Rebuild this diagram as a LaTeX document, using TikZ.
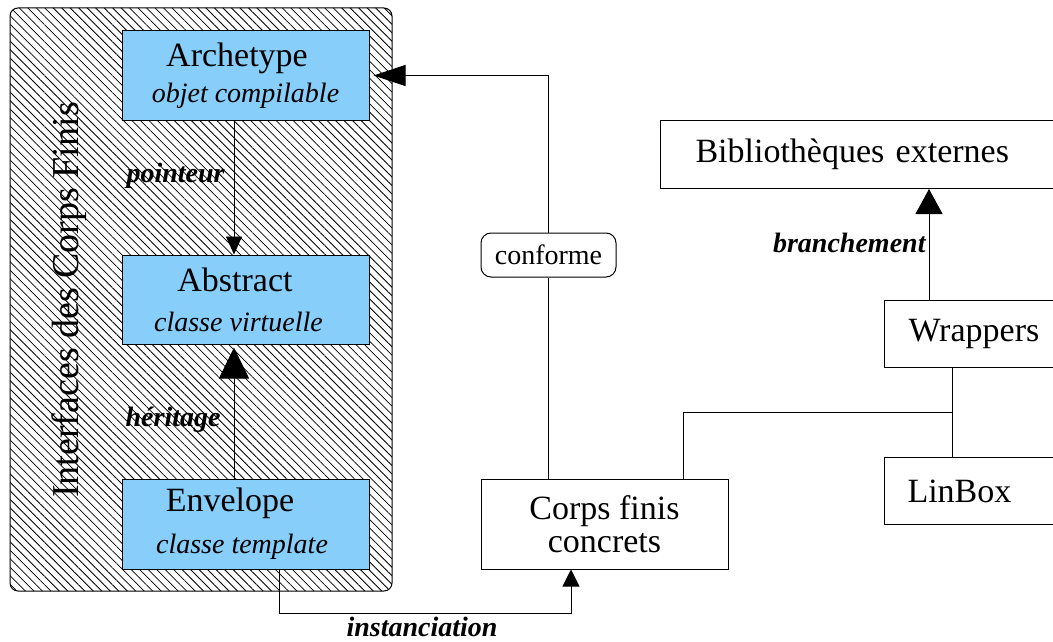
\documentclass[tikz,border=0pt]{standalone}
\usepackage{fontspec}
\setmainfont{Liberation Serif}
\usetikzlibrary{arrows.meta,patterns.meta,calc}
\definecolor{ifaceblue}{RGB}{135,206,250}

\tikzset{
  iface/.style={draw, line width=1pt, fill=ifaceblue, minimum width=247pt,
    minimum height=89pt, align=center, inner sep=0pt,
    font=\fontsize{34}{36}\selectfont},
  plain/.style={draw, line width=1pt, fill=white, inner sep=0pt,
    font=\fontsize{34}{33}\selectfont},
  cutbox/.style={plain, anchor=north west, align=left},
  rel/.style={inner sep=0pt, font=\fontsize{28}{30}\selectfont\bfseries\itshape},
  link/.style={line width=0.9pt},
}
\newcommand\sublabel{\itshape\fontsize{28}{30}\selectfont}

\begin{document}
\begin{tikzpicture}[x=1pt, y=-1pt]
  \useasboundingbox (0,0) rectangle (1053,642);
  % hatched frame of the interfaces
  \draw[line width=1pt, rounded corners=8pt,
    pattern={Lines[angle=-45,distance=6pt,line width=0.8pt]}]
    (10,8) rectangle (392,591);
  \node[rotate=90, inner sep=0pt, font=\fontsize{38}{40}\selectfont] (title)
    at (69,300) {Interfaces des Corps Finis};
  % interface classes
  \node[iface] (arch) at (245.5,75.5)
    {Archetype\kern17pt\\{\sublabel objet compilable}};
  \node[iface] (abs) at (245.5,299.5)
    {Abstract\kern21pt\\[4pt]{\sublabel classe virtuelle\kern14pt}};
  \node[iface, minimum height=90pt] (env) at (245.5,524)
    {Envelope\kern31pt\\[6pt]{\sublabel classe template\kern7pt}};
  % other boxes
  \node[plain, minimum width=247pt, minimum height=90pt, align=center] (corps)
    at (604.5,524) {Corps finis\\concrets};
  \node[plain, rounded corners=10pt, minimum width=135pt, minimum height=44pt,
    font=\fontsize{28}{30}\selectfont] (conf) at (548.5,255) {conforme};
  \node[cutbox, minimum height=68pt, text width=400pt, inner xsep=35pt] (bib)
    at (660,120) {Bibliothèques externes};
  \node[cutbox, minimum height=67pt, text width=300pt, inner xsep=24pt] (wrap)
    at (884,300) {Wrappers};
  \node[cutbox, minimum height=67pt, text width=300pt, inner xsep=23pt] (lin)
    at (884,457) {LinBox};
  % relations
  \draw[link, -{Triangle[length=18pt,width=16pt]}]
    ([xshift=-11.5pt]arch.south) -- ([xshift=-11.5pt]abs.north)
    node[rel, pos=0.41, left=9pt] (ptr) {pointeur};
  \draw[link, -{Triangle[length=31pt,width=30pt]}]
    ([xshift=-11.5pt]env.north) -- ([xshift=-11.5pt,yshift=-3pt]abs.south)
    node[rel, pos=0.45, left=13pt] (inh) {héritage};
  \draw[link] (corps.north -| conf.south) -- (conf.south);
  \draw[link, -{Triangle[length=32pt,width=21pt]}]
    (conf.north) |- ([xshift=4pt]arch.east);
  \draw[link, -{Triangle[length=17pt,width=17pt]}]
    ([xshift=33.5pt]env.south) -- ++(0,44) -| ([xshift=-33.5pt]corps.south)
    node[rel, pos=0.245, below=3pt] (inst) {instanciation};
  \coordinate (plug) at ([xshift=45pt]wrap.north west);
  \draw[link, -{Triangle[length=25pt,width=27pt]}]
    (plug) -- (plug |- bib.south)
    node[rel, pos=0.51, left=3pt] (brch) {branchement};
  \coordinate (wlk) at ([xshift=68pt]wrap.south west);
  \draw[link] (wlk) -- (wlk |- lin.north);
  \draw[link] ($(wlk)!0.5!(wlk |- lin.north)$) -| ([xshift=-45pt]corps.north east);
\end{tikzpicture}
\end{document}
